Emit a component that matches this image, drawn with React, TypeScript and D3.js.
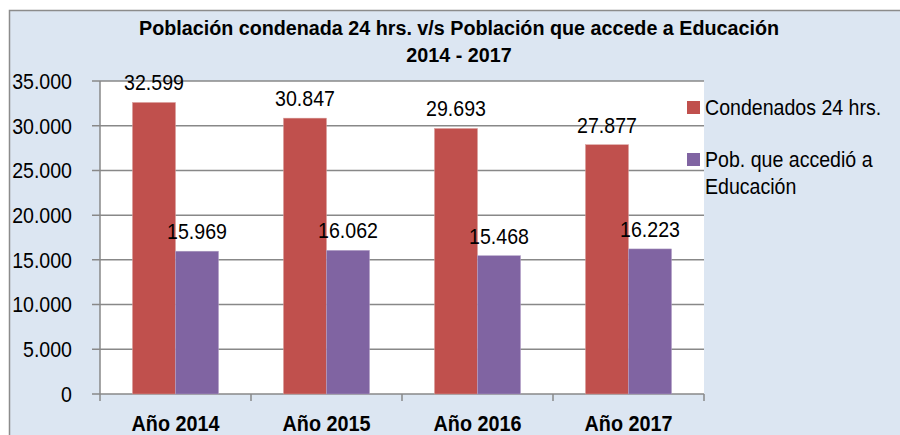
import React from 'react';
import * as d3 from 'd3';

const years = ['Año 2014', 'Año 2015', 'Año 2016', 'Año 2017'];
const condenados = [32599, 30847, 29693, 27877];
const educacion = [15969, 16062, 15468, 16223];
const seriesNames = ['Condenados 24 hrs.', 'Pob. que accedió a Educación'];
const yTicks = [0, 5000, 10000, 15000, 20000, 25000, 30000, 35000];

const RED = '#c0504d';
const PURPLE = '#8064a2';
const BG = '#dce6f2';
const GRID = '#888888';
const FONT = '"Liberation Sans", Arial, sans-serif';

const fmt = (v: number) => (v === 0 ? '0' : d3.format(',')(v).replace(/,/g, '.'));

// narrow-looking text: a normal sans squeezed horizontally
function T({ x, y, children, anchor = 'start', size = 22, bold = false, sx = 0.89, dy }: any) {
  return (
    <g transform={`translate(${x},${y}) scale(${sx},1)`}>
      <text textAnchor={anchor} fontSize={size} fontWeight={bold ? 'bold' : 'normal'} dy={dy} fill="#000">
        {children}
      </text>
    </g>
  );
}

export default function App() {
  const left = 100, right = 704, top = 81, bottom = 394;

  const x = d3.scaleBand().domain(years).range([left, right]).paddingInner(0.43).paddingOuter(0.215);
  const y = d3.scaleLinear().domain([0, 35000]).range([bottom, top]);
  const bw = x.bandwidth() / 2;
  const cat = d3.scaleBand().domain(years).range([left, right]);

  return (
    <svg width={900} height={435} style={{ position: 'absolute', left: 0, top: 0 }} fontFamily={FONT}>
      <rect x={0} y={0} width={900} height={435} fill="#fff" />
      <rect x={9.5} y={10.5} width={900} height={440} fill={BG} stroke="#8c8c8c" strokeWidth={1.5} />
      <T x={459} y={35} anchor="middle" bold size={21} sx={0.94}>
        Población condenada 24 hrs. v/s Población que accede a Educación
      </T>
      <T x={459} y={62} anchor="middle" bold size={21} sx={0.94}>
        2014 - 2017
      </T>

      <rect x={left} y={top} width={right - left} height={bottom - top} fill="#fff" />
      {yTicks.map(t => (
        <g key={t}>
          <line x1={left - 8} x2={right} y1={y(t)} y2={y(t)} stroke={GRID} strokeWidth={1.5} />
          <T x={72} y={y(t)} dy="0.36em" anchor="end">{fmt(t)}</T>
        </g>
      ))}
      <line x1={left} x2={left} y1={top} y2={bottom + 7} stroke={GRID} strokeWidth={1.5} />

      {years.map((yr, i) => {
        const x0 = x(yr)!;
        return (
          <g key={yr}>
            <rect x={x0} y={y(condenados[i])} width={bw} height={bottom - y(condenados[i])} fill={RED} stroke="#d9a09e" strokeWidth={0.5} />
            <rect x={x0 + bw} y={y(educacion[i])} width={bw} height={bottom - y(educacion[i])} fill={PURPLE} stroke="#b3a2c7" strokeWidth={0.5} />
            <T x={x0 + bw / 2} y={y(condenados[i]) - 12} anchor="middle">{fmt(condenados[i])}</T>
            <T x={x0 + bw * 1.5} y={y(educacion[i]) - 12} anchor="middle">{fmt(educacion[i])}</T>
            <line x1={cat(yr)! + cat.bandwidth()} x2={cat(yr)! + cat.bandwidth()} y1={bottom} y2={bottom + 7} stroke={GRID} strokeWidth={1.5} />
            <T x={cat(yr)! + cat.bandwidth() / 2} y={431} anchor="middle" bold sx={0.9}>{yr}</T>
          </g>
        );
      })}

      <rect x={687} y={101} width={13} height={13} fill={RED} />
      <T x={705} y={115}>{seriesNames[0]}</T>
      <rect x={687} y={153} width={13} height={13} fill={PURPLE} />
      <T x={705} y={167}>Pob. que accedió a</T>
      <T x={705} y={194}>Educación</T>
    </svg>
  );
}
